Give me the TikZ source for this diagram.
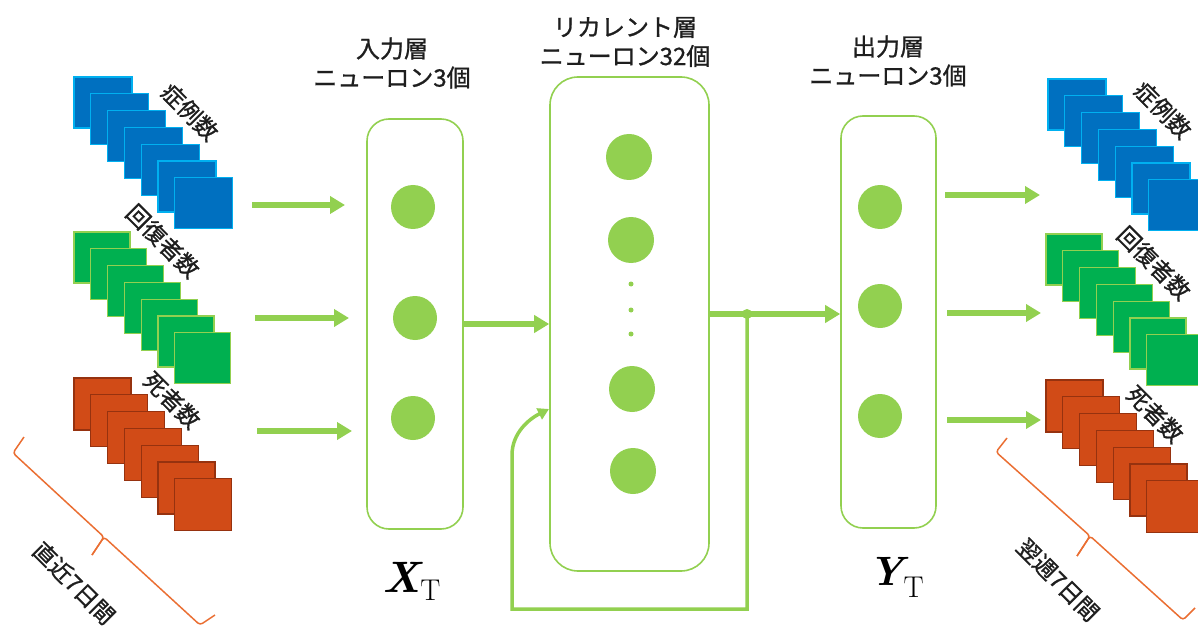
\documentclass[tikz,border=0pt]{standalone}
\usepackage{fontspec}
\usetikzlibrary{arrows.meta,calc}
\newfontfamily\jp[FakeBold=1]{Noto Sans CJK JP}
\definecolor{nngreen}{RGB}{146,208,80}
\definecolor{sqblue}{RGB}{0,112,192}
\definecolor{sqblueb}{RGB}{0,176,240}
\definecolor{sqgreen}{RGB}{0,176,80}
\definecolor{sqgreenb}{RGB}{146,208,80}
\definecolor{sqred}{RGB}{209,75,23}
\definecolor{sqredb}{RGB}{150,50,15}
\definecolor{brc}{RGB}{234,110,50}
\definecolor{txt}{RGB}{30,30,30}
\newcommand\sqstack[6]{%
  \foreach \i in {0,...,6}{%
    \filldraw[fill=#5,draw=#6,line width=1.2pt] ({#1+16.8*\i},{#2+16.8*\i}) rectangle ++(#3,#4);
  }%
}
\begin{document}
\begin{tikzpicture}[x=1pt,y=-1pt,
  layerbox/.style={draw=nngreen, line width=1.6pt, inner sep=0pt},
  neuron/.style={circle, fill=nngreen, inner sep=0pt, minimum size=44pt},
  rneuron/.style={circle, fill=nngreen, inner sep=0pt, minimum size=46pt},
  smalldot/.style={circle, fill=nngreen, inner sep=0pt, minimum size=5pt},
  arr/.style={draw=nngreen, line width=5.5pt, -{Triangle[length=15pt,width=17pt]}},
  fbline/.style={draw=nngreen, line width=3.5pt, -{Triangle[length=11pt,width=12pt]}},
  bracestyle/.style={draw=brc, line width=1.5pt, rounded corners=3pt},
  title/.style={text=txt, font=\jp\fontsize{24}{29}\selectfont, align=center, inner sep=0pt},
  lbl/.style={text=txt, font=\jp\fontsize{23}{26}\selectfont, inner sep=0pt, rotate=-45},
  mathlbl/.style={text=black, inner sep=0pt, anchor=base west}
]
\useasboundingbox (0,0) rectangle (1198,628);
\clip (0,0) rectangle (1198,628);

% ---- left stacks
\sqstack{74}{77}{58}{51}{sqblue}{sqblueb}
\sqstack{74}{232}{56}{51}{sqgreen}{sqgreenb}
\sqstack{74}{378}{57}{52}{sqred}{sqredb}
% ---- right stacks
\sqstack{1048}{79}{58}{51}{sqblue}{sqblueb}
\sqstack{1046}{234}{56}{51}{sqgreen}{sqgreenb}
\sqstack{1046}{380}{57}{52}{sqred}{sqredb}

% ---- stack labels
\node[lbl] (lcase) at (190,112) {症例数};
\node[lbl] (lrec)  at (163,241) {回復者数};
\node[lbl] (ldead) at (172,400) {死者数};
\node[lbl] (rcase) at (1163,110) {症例数};
\node[lbl] (rrec)  at (1154,263) {回復者数};
\node[lbl] (rdead) at (1155,414) {死者数};

% ---- braces
\draw[bracestyle] (24,437) -- (13,453) -- (104,537) -- (92,555);
\draw[bracestyle] (92,555) -- (104,537) -- (200,625) -- (215,615);
\draw[bracestyle] (1007,438) -- (996,452) -- (1090,536) -- (1077,556);
\draw[bracestyle] (1077,556) -- (1090,536) -- (1183,620) -- (1195,608);
\node[lbl] (lweek) at (74,583) {直近7日間};
\node[lbl] (rweek) at (1058,580) {翌週7日間};

% ---- layer boxes
\node[layerbox, rounded corners=22pt, minimum width=96pt, minimum height=410pt] (inbox) at (415,324) {};
\node[layerbox, rounded corners=28pt, minimum width=159pt, minimum height=494pt] (recbox) at (629.5,324) {};
\node[layerbox, rounded corners=22pt, minimum width=95pt, minimum height=412pt] (outbox) at (888.5,322) {};

% ---- titles
\node[title] (tin)  at (392,63) {入力層\\ニューロン3個};
\node[title] (trec) at (625,42) {リカレント層\\ニューロン32個};
\node[title] (tout) at (888,61) {出力層\\ニューロン3個};

% ---- neurons
\node[neuron] (i1) at (413,207) {};
\node[neuron] (i2) at (415,318) {};
\node[neuron] (i3) at (413,418) {};
\node[rneuron] (r1) at (629,157) {};
\node[rneuron] (r2) at (631,240) {};
\node[smalldot] (d1) at (631,284) {};
\node[smalldot] (d2) at (631,310) {};
\node[smalldot] (d3) at (631,334) {};
\node[rneuron] (r3) at (632,389) {};
\node[rneuron] (r4) at (633,471) {};
\node[neuron] (o1) at (880,207) {};
\node[neuron] (o2) at (880,306) {};
\node[neuron] (o3) at (880,416) {};

% ---- math labels
\node[mathlbl] (xt) at (382,592) {\fontsize{44}{48}\selectfont\bfseries\itshape X\raisebox{-8pt}{\fontsize{30}{32}\selectfont\mdseries\upshape T}};
\node[mathlbl] (yt) at (868,585) {\fontsize{41}{45}\selectfont\bfseries\itshape Y\raisebox{-12pt}{\fontsize{30}{32}\selectfont\mdseries\upshape T}};

% ---- input arrows
\coordinate (a1s) at (252,205); \coordinate (a1e) at (345,205);
\coordinate (a2s) at (255,318); \coordinate (a2e) at (349,318);
\coordinate (a3s) at (257,431); \coordinate (a3e) at (352,431);
\draw[arr] (a1s) -- (a1e);
\draw[arr] (a2s) -- (a2e);
\draw[arr] (a3s) -- (a3e);
% ---- output arrows
\coordinate (b1s) at (945,195); \coordinate (b1e) at (1040,195);
\coordinate (b2s) at (947,313); \coordinate (b2e) at (1041,313);
\coordinate (b3s) at (947,420); \coordinate (b3e) at (1041,420);
\draw[arr] (b1s) -- (b1e);
\draw[arr] (b2s) -- (b2e);
\draw[arr] (b3s) -- (b3e);

% ---- network connections
\draw[arr] (inbox.east) -- (recbox.west);
\coordinate (fb) at (747,314);
\draw[arr] (recbox.east |- fb) -- (outbox.west |- fb);
\fill[nngreen] (fb) circle (5pt);
\coordinate (fb1) at (747,609);
\coordinate (fb2) at (512,609);
\coordinate (fb3) at (512,455);
\coordinate (fbe) at (549,409);
\draw[fbline] (fb) -- (fb1) -- (fb2) -- (fb3) .. controls (512,433) and (529,419) .. (fbe);
\end{tikzpicture}
\end{document}
